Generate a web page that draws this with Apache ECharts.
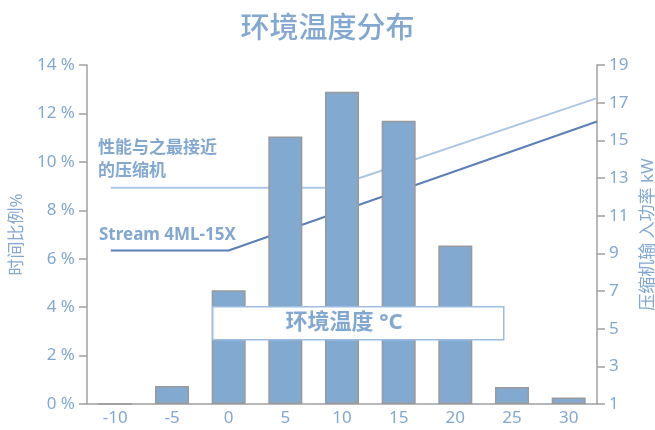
<!DOCTYPE html>
<html>
<head>
    <meta charset="utf-8">
    <script src="https://cdn.jsdelivr.net/npm/echarts@6/dist/echarts.min.js"></script>
</head>
<body style="margin:0;">
    <div id="main" style="width:655px; height:430px;"></div>
</body>
	<script type="text/javascript">
		// ambient temperature buckets (°C) and share of time (%)
		var temps = ['-10', '-5', '0', '5', '10', '15', '20', '25', '30'];
		var timeShare = [0, 0.74, 4.7, 11.05, 12.9, 11.7, 6.55, 0.7, 0.27];
		// compressor input power (kW) vs temperature
		var closestX = [-10.4, 9, 32.5];
		var closestKw = [12.48, 12.48, 17.24];
		var streamX = [-10.4, 0, 32.5];
		var streamKw = [9.15, 9.15, 16.0];

		var blue = '#82a8d2';
		var grey = '#a0a0a0';
		var font = '"Noto Sans", "Noto Sans CJK SC", sans-serif';

		function pairs(xs, ys) {
			var out = [];
			for (var i = 0; i < xs.length; i++) out.push([xs[i], ys[i]]);
			return out;
		}

        var myChart = echarts.init(document.getElementById('main'));
      	option = {
			animation: false,
			textStyle: { fontFamily: font },
			title: {
				text: '环境温度分布',
				left: 'center',
				top: 10,
				textStyle: { color: blue, fontSize: 29, fontWeight: 500, fontFamily: font }
			},
			grid: { left: 87, right: 58, top: 65, bottom: 26, outerBoundsMode: 'none' },
			xAxis: [{
				type: 'category',
				data: temps,
				axisLine: { onZero: false, lineStyle: { color: grey, width: 1.5 } },
				axisTick: { length: 8, lineStyle: { color: grey, width: 1.5 } },
				axisLabel: { color: blue, fontSize: 17, margin: 6 }
			}, {
				type: 'value',
				min: -12.5,
				max: 32.5,
				show: false
			}],
			yAxis: [{
				type: 'value',
				min: 0,
				max: 14,
				interval: 2,
				name: '时间比例%',
				nameLocation: 'middle',
				nameRotate: 90,
				nameGap: 60,
				nameTextStyle: { color: blue, fontSize: 17 },
				axisLine: { show: true, onZero: false, lineStyle: { color: grey, width: 1.5 } },
				axisTick: { show: true, length: 8, lineStyle: { color: grey, width: 1.5 } },
				axisLabel: { color: blue, fontSize: 17, margin: 12, formatter: '{value} %' },
				splitLine: { show: false }
			}, {
				type: 'value',
				min: 1,
				max: 19,
				interval: 2,
				position: 'right',
				name: '压缩机输 入功率 kW',
				nameLocation: 'middle',
				nameRotate: 90,
				nameGap: 42,
				nameTextStyle: { color: blue, fontSize: 17 },
				axisLine: { show: true, onZero: false, lineStyle: { color: grey, width: 1.5 } },
				axisTick: { show: true, length: 8, lineStyle: { color: grey, width: 1.5 } },
				axisLabel: { color: blue, fontSize: 17, margin: 12 },
				splitLine: { show: false }
			}],
			series: [{
				type: 'line',
				xAxisIndex: 1,
				yAxisIndex: 1,
				z: 1,
				symbol: 'none',
				data: pairs(closestX, closestKw),
				lineStyle: { color: '#adc6e4', width: 2 }
			}, {
				type: 'line',
				xAxisIndex: 1,
				yAxisIndex: 1,
				z: 1,
				symbol: 'none',
				data: pairs(streamX, streamKw),
				lineStyle: { color: '#5b7fb7', width: 2 }
			}, {
				type: 'bar',
				z: 3,
				data: timeShare,
				barWidth: 34,
				itemStyle: { color: '#82a9d0', borderColor: '#999999', borderWidth: 1.5 }
			}],
			graphic: [{
				type: 'text',
				left: 98,
				top: 137,
				z: 10,
				style: {
					text: '性能与之最接近\n的压缩机',
					fill: blue,
					font: 'bold 17px ' + font,
					lineHeight: 23
				}
			}, {
				type: 'text',
				left: 99,
				top: 227,
				z: 10,
				style: {
					text: 'Stream 4ML-15X',
					fill: blue,
					font: 'bold 17px ' + font
				}
			}, {
				type: 'rect',
				left: 212,
				top: 306,
				z: 10,
				shape: { width: 291, height: 33 },
				style: { fill: '#ffffff', stroke: '#9dbde0', lineWidth: 1.5 }
			}, {
				type: 'text',
				x: 344,
				y: 323,
				z: 11,
				style: {
					text: '环境温度 °C',
					fill: blue,
					font: 'bold 22px ' + font,
					align: 'center',
					verticalAlign: 'middle'
				}
			}]
		};
        myChart.setOption(option);
    </script>
</html>
